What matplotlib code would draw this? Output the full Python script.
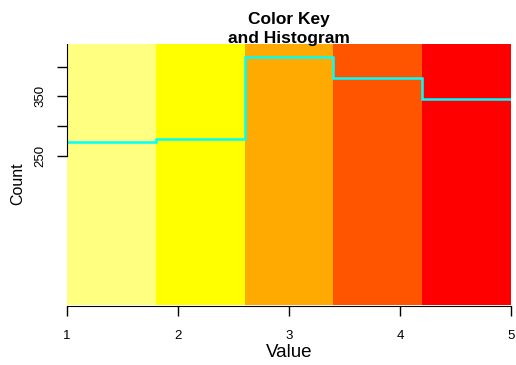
import numpy as np
import matplotlib
matplotlib.use("Agg")
import matplotlib.pyplot as plt

# color key bins and histogram counts
breaks = [1.0, 1.8, 2.6, 3.4, 4.2, 5.0]
colores = ["#FFFF80", "#FFFF00", "#FFAA00", "#FF5500", "#FF0000"]
contagens = [274, 279, 416, 381, 346]
yticks_count = [250, 300, 350, 400]
ylabels_count = ["250", "", "350", ""]
xticks_val = [1, 2, 3, 4, 5]

plt.rcParams['font.family'] = ['Liberation Sans', 'DejaVu Sans']

fig = plt.figure(figsize=(5.16, 3.65), dpi=100)
ax = fig.add_axes([67/516, 60/365, 444/516, 261/365])

# faixas de cor
for i in range(len(colores)):
    ax.axvspan(breaks[i], breaks[i+1], color=colores[i], lw=0)

# histograma escalado como no heatmap.2 (max -> 0.95)
mx = max(contagens)
hy = np.array(contagens) / mx * 0.95
xs = np.repeat(breaks, 2)[1:-1]
ys = np.repeat(hy, 2)
ax.plot(xs, ys, color="#00FFFF", lw=1.8, solid_joinstyle='miter')

ax.set_xlim(1, 5)
ax.set_ylim(0, 1)

for s in ['top', 'right']:
    ax.spines[s].set_visible(False)
ax.spines['bottom'].set_position(('outward', 1))
ax.spines['left'].set_bounds(yticks_count[0] / mx * 0.95, 1)
ax.spines['bottom'].set_bounds(1, 5)

ax.set_xticks(xticks_val)
ax.set_xticklabels([str(v) for v in xticks_val], fontsize=9.5)
ax.set_yticks([v / mx * 0.95 for v in yticks_count])
ax.set_yticklabels(ylabels_count, fontsize=9.5, rotation=90, va='center')
ax.tick_params(direction='out', length=7, width=1)
ax.tick_params(axis='x', pad=10)
ax.tick_params(axis='y', pad=8)

ax.set_xlabel("Value", fontsize=13.5)
ax.xaxis.set_label_coords(0.5, -0.148)
ax.set_ylabel("Count", fontsize=11.5)
ax.yaxis.set_label_coords(-0.095, 0.464)

ax.text(0.5, (305-24)/261, "Color Key", transform=ax.transAxes, ha='center',
        va='baseline', fontsize=12.5, fontweight='bold')
ax.text(0.5, (305-43)/261, "and Histogram", transform=ax.transAxes, ha='center',
        va='baseline', fontsize=12.5, fontweight='bold')

fig.savefig("out.png", dpi=100)
